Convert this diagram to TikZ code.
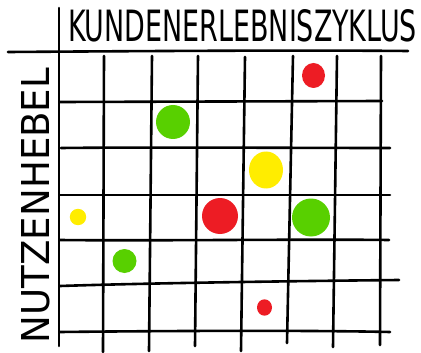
\documentclass[tikz,border=0pt]{standalone}
\usepackage{fontspec}
\setmainfont{DejaVu Sans}
\usepackage{graphicx}
\definecolor{dotred}{RGB}{237,28,36}
\definecolor{dotgreen}{RGB}{88,208,0}
\definecolor{dotyellow}{RGB}{255,237,0}
\tikzset{
  ink/.style={line width=2.6pt, line cap=round, black},
  label/.style={inner sep=0pt, outer sep=0pt},
}
\begin{document}
\begin{tikzpicture}[x=1pt,y=-1pt]
\useasboundingbox (0,0) rectangle (421,353);
\fill[white] (0,0) rectangle (421,353);
% titles
\node[label, anchor=north west] (title) at (68,10) {\resizebox{349pt}{32pt}{KUNDENERLEBNISZYKLUS}};
\node[label, rotate=90] (side) at (36,205.5) {\resizebox{275pt}{28pt}{NUTZENHEBEL}};
% axes
\draw[ink] (8,52) .. controls (150,51) and (300,50) .. (408,51);
\draw[ink] (59,8) -- (59,346);
% vertical grid lines
\draw[ink] (104,56) -- (103,352);
\draw[ink] (152,56) -- (149,351);
\draw[ink] (198,56) -- (195,346);
\draw[ink] (245,57) -- (241,351);
\draw[ink] (293,56) -- (287,343);
\draw[ink] (337,56) -- (333,347);
\draw[ink] (381,56) -- (380,345);
% horizontal grid lines
\draw[ink] (60,102) -- (382,101);
\draw[ink] (61,148) .. controls (150,147) and (300,148) .. (390,148);
\draw[ink] (60,195) -- (390,195);
\draw[ink] (60,240) .. controls (150,241) and (300,239) .. (389,240);
\draw[ink] (60,286) .. controls (150,283) and (300,281) .. (399,280);
\draw[ink] (60,332) .. controls (150,331) and (300,330) .. (390,332);
% dots
\fill[dotred] (313.5,75.5) ellipse (11.5 and 12.5);
\fill[dotgreen] (173,122) circle (17);
\fill[dotyellow] (266,170) ellipse (17 and 18.5);
\fill[dotred] (220,216) circle (18);
\fill[dotgreen] (311,217.5) circle (19);
\fill[dotyellow] (78,217) circle (8.2);
\fill[dotgreen] (124.5,261) circle (12);
\fill[dotred] (264.5,307.5) ellipse (7.5 and 8.2);
\end{tikzpicture}
\end{document}
